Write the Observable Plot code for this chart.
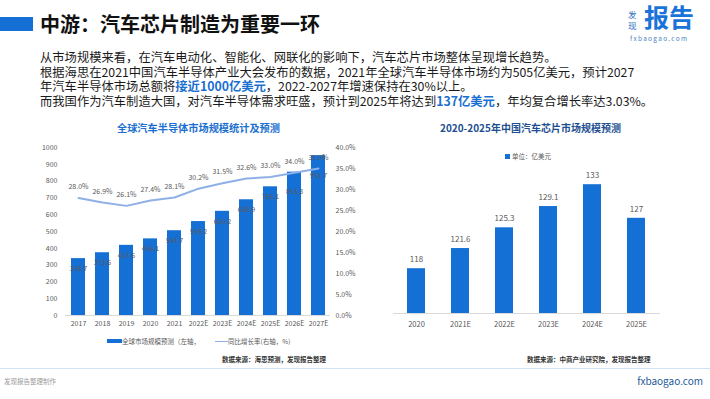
<!DOCTYPE html>
<html><head><meta charset="utf-8">
<script src="https://cdn.jsdelivr.net/npm/d3@7"></script>
<script src="https://cdn.jsdelivr.net/npm/@observablehq/plot@0.6"></script>
<style>
body{margin:0;width:710px;height:399px;position:relative;overflow:hidden;background:#fff;font-family:"Noto Sans CJK SC","Noto Sans",sans-serif;}
.abs{position:absolute;white-space:nowrap;}
.hl{color:#1a6fd0;font-weight:bold;}
.body{left:40px;font-size:12.3px;line-height:14px;color:#1a1a1a;}
</style></head><body>
<div class="abs" style="left:0;top:17px;width:33px;height:14px;background:#1570d6"></div>
<div class="abs" style="left:40px;top:10px;font-size:20px;font-weight:bold;color:#111;line-height:28px;">中游：汽车芯片制造为重要一环</div>
<div class="abs" style="left:628px;top:9px;font-size:8.5px;line-height:11px;color:#2a6cc0;">发</div>
<div class="abs" style="left:628px;top:20px;font-size:8.5px;line-height:11px;color:#2a6cc0;">现</div>
<div class="abs" style="left:644px;top:1px;font-size:25px;font-weight:bold;line-height:31px;color:#1a73d9;">报告</div>
<div class="abs" style="left:630px;top:34px;font-size:6.5px;line-height:9px;letter-spacing:1.3px;color:#4a7fbf;">fxbaogao.com</div>
<div class="abs body" style="top:50px;">从市场规模来看，在汽车电动化、智能化、网联化的影响下，汽车芯片市场整体呈现增长趋势。</div>
<div class="abs body" style="top:64.5px;">根据海思在2021中国汽车半导体产业大会发布的数据，2021年全球汽车半导体市场约为505亿美元，预计2027</div>
<div class="abs body" style="top:79px;">年汽车半导体市场总额将<span class="hl">接近1000亿美元</span>，2022-2027年增速保持在30%以上。</div>
<div class="abs body" style="top:93.5px;">而我国作为汽车制造大国，对汽车半导体需求旺盛，预计到2025年将达到<span class="hl">137亿美元</span>，年均复合增长率达3.03%。</div>

<div class="abs" style="left:117px;top:120px;font-size:10.2px;font-weight:bold;color:#1a6fd0;">全球汽车半导体市场规模统计及预测</div>
<div class="abs" style="left:440px;top:120px;font-size:10px;font-weight:bold;color:#1d4f91;">2020-2025年中国汽车芯片市场规模预测</div>

<div id="left" class="abs" style="left:20px;top:135px;"></div>
<div id="right" class="abs" style="left:370px;top:140px;"></div>

<div class="abs" style="left:107px;top:339px;width:15px;height:4px;background:#1570d6"></div>
<div class="abs" style="left:122px;top:335px;font-size:6.5px;line-height:12px;color:#595959;">全球市场规模预测（左轴，</div>
<div class="abs" style="left:215px;top:340.5px;width:13px;height:1.5px;background:#8eb0e6"></div>
<div class="abs" style="left:228px;top:335px;font-size:6.5px;line-height:12px;color:#595959;">同比增长率(右轴，%)</div>
<div class="abs" style="left:222px;top:353px;font-size:6.5px;line-height:12px;font-weight:bold;color:#333;">数据来源：海思预测，发现报告整理</div>

<div class="abs" style="left:505px;top:154px;width:5px;height:5px;background:#1570d6"></div>
<div class="abs" style="left:512px;top:151px;font-size:6.5px;line-height:11px;color:#595959;">单位：亿美元</div>
<div class="abs" style="left:527px;top:353px;font-size:6.5px;line-height:12px;font-weight:bold;color:#333;">数据来源：中商产业研究院，发现报告整理</div>

<div class="abs" style="left:0;top:368px;width:710px;height:1px;background:#cfe3f5"></div>
<div class="abs" style="left:4px;top:376px;font-size:6.5px;line-height:10px;color:#9a9a9a;">发现报告整理制作</div>
<div class="abs" style="right:7px;top:374px;font-size:10px;line-height:14px;color:#1e5a9c;">fxbaogao.com</div>

<script>
// Global automotive semiconductor market (left chart)
const globalYears = ["2017","2018","2019","2020","2021","2022E","2023E","2024E","2025E","2026E","2027E"];
const globalSize = [338.7, 373.6, 417.6, 456.1, 504.7, 559.2, 620.2, 688.9, 766.1, 853.3, 951.7];
const globalGrowth = [28.0, 26.9, 26.1, 27.4, 28.1, 30.2, 31.5, 32.6, 33.0, 34.0, 35.0];
const leftTicks = [0,100,200,300,400,500,600,700,800,900,1000];
const rightTicks = [0,5,10,15,20,25,30,35,40];

// China automotive chip market (right chart)
const cnYears = ["2020","2021E","2022E","2023E","2024E","2025E"];
const cnSize = [118, 121.6, 125.3, 129.1, 133, 127];

const FONT = '"Noto Sans CJK SC","Noto Sans",sans-serif';
const BLUE = "#1570d6";
const GRAY = "#595959";

const gData = globalYears.map((y,i)=>({year:y,size:globalSize[i],pct:globalGrowth[i],i}));
const ratio = 1000/40; // right axis (%) mapped onto left axis

const left = Plot.plot({
  width:340, height:200, marginTop:12, marginBottom:20, marginLeft:45, marginRight:30,
  style:{fontFamily:FONT, fontSize:"7px", color:GRAY, background:"transparent", overflow:"visible"},
  x:{domain:globalYears, paddingInner:0.42, paddingOuter:0.21, label:null},
  y:{domain:[0,1000], label:null},
  marks:[
    Plot.barY(gData,{x:"year", y:"size", fill:BLUE}),
    Plot.ruleY([0],{stroke:"#d9d9d9"}),
    Plot.axisX({tickSize:0, tickPadding:6, label:null, fontSize:7}),
    Plot.axisY({ticks:leftTicks, tickFormat:d=>String(d), tickSize:0, tickPadding:8, label:null}),
    Plot.axisY({anchor:"right", ticks:rightTicks.map(v=>v*ratio), tickFormat:v=>(v/ratio).toFixed(1)+"%", tickSize:0, tickPadding:5, label:null}),
    Plot.line(gData,{x:"year", y:d=>d.pct*ratio, stroke:"#8eb0e6", strokeWidth:2}),
    Plot.text(gData.filter(d=>d.i<9),{x:"year", y:"size", text:d=>d.size.toFixed(1), dy:10, fill:GRAY, fontSize:7}),
    Plot.text(gData.filter(d=>d.i>=9),{x:"year", y:"size", text:d=>d.size.toFixed(1), dy:20, fill:GRAY, fontSize:7}),
    Plot.text(gData,{x:"year", y:d=>d.pct*ratio, text:d=>d.pct.toFixed(1)+"%", dy:-11, fill:GRAY, fontSize:7})
  ]
});
document.getElementById("left").append(left);

const cData = cnYears.map((y,i)=>({year:y,size:cnSize[i]}));
const right = Plot.plot({
  width:330, height:195, marginTop:33, marginBottom:22, marginLeft:23, marginRight:41,
  style:{fontFamily:FONT, fontSize:"7.5px", color:GRAY, background:"transparent", overflow:"visible"},
  x:{domain:cnYears, paddingInner:0.6, paddingOuter:0.3, label:null},
  y:{domain:[110,135], axis:null},
  marks:[
    Plot.barY(cData,{x:"year", y:"size", fill:BLUE, clip:true}),
    Plot.frame({anchor:"bottom", stroke:"#d9d9d9"}),
    Plot.axisX({tickSize:0, tickPadding:8, label:null, fontSize:7.5}),
    Plot.text(cData,{x:"year", y:"size", text:d=>String(d.size), dy:-9, fill:GRAY, fontSize:8})
  ]
});
document.getElementById("right").append(right);
</script>
</body></html>
